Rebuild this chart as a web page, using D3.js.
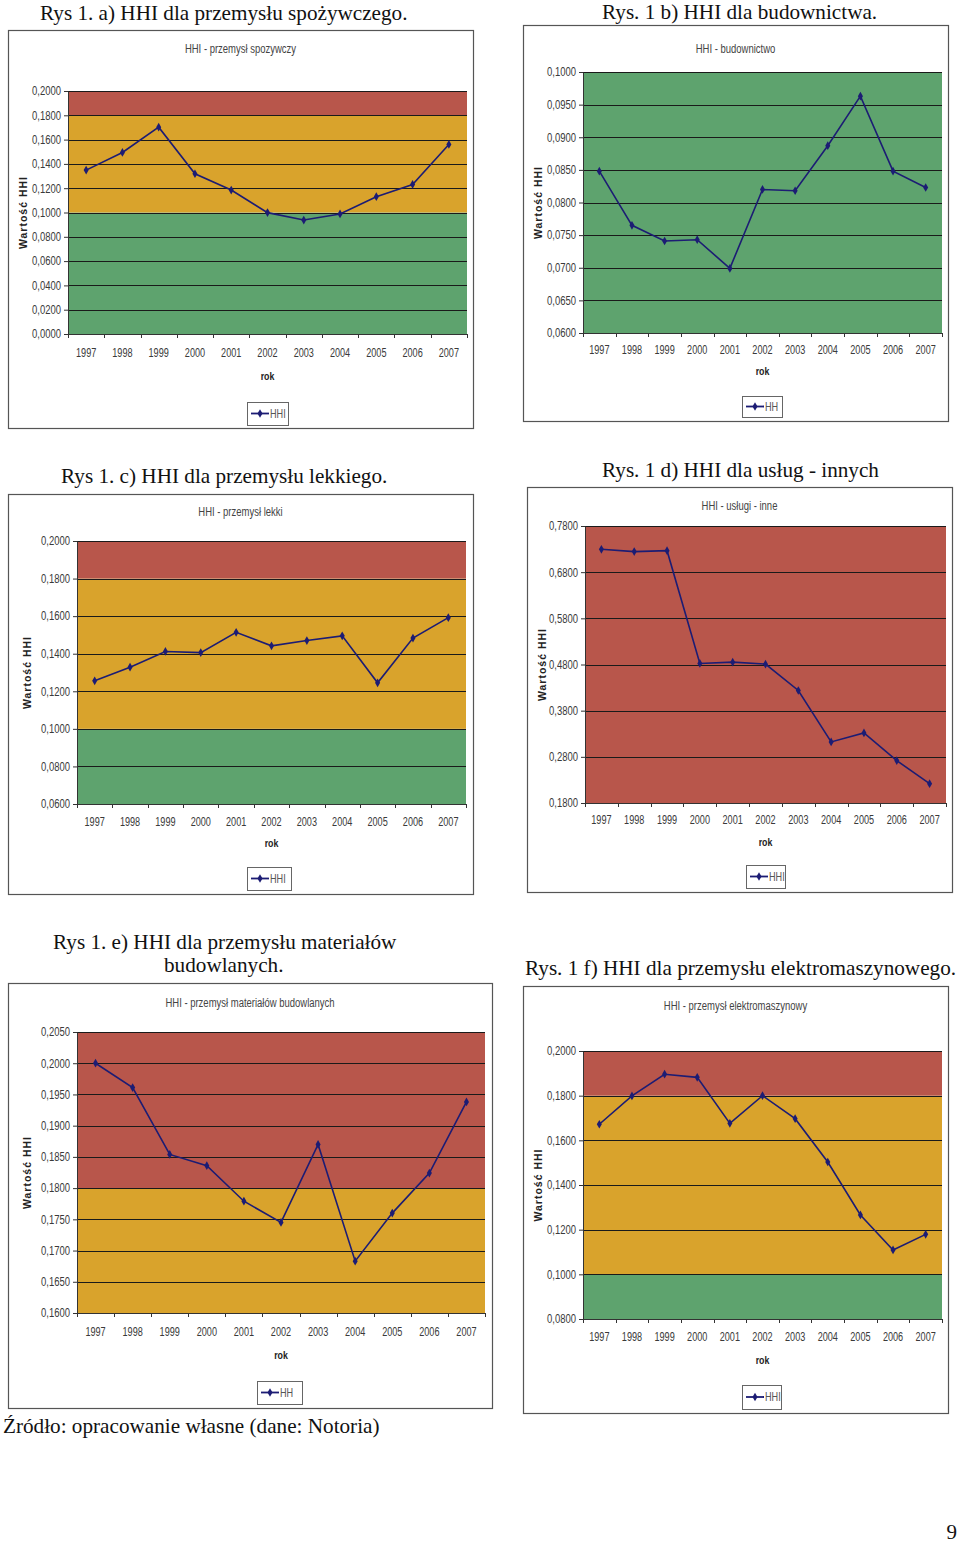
<!DOCTYPE html>
<html><head><meta charset="utf-8">
<script src="https://cdn.jsdelivr.net/npm/d3@7"></script>
<style>
html,body{margin:0;padding:0;background:#fff;}
svg{display:block;}
</style></head>
<body>
<svg id="page" width="960" height="1543"></svg>
<script>
// ---------------- DATA ----------------
const years = ["1997","1998","1999","2000","2001","2002","2003","2004","2005","2006","2007"];

const hhiSpozywczy   = [0.1349,0.1494,0.1702,0.1319,0.1185,0.0999,0.0938,0.0988,0.1130,0.1231,0.1560];
const hhiBudownictwo = [0.0848,0.0765,0.0741,0.0743,0.0699,0.0820,0.0818,0.0887,0.0963,0.0848,0.0823];
const hhiLekki       = [0.1256,0.1328,0.1412,0.1406,0.1514,0.1442,0.1470,0.1495,0.1245,0.1483,0.1592];
const hhiUslugi      = [0.7295,0.7245,0.7266,0.4822,0.4851,0.4808,0.4237,0.3123,0.3318,0.2718,0.2219];
const hhiMaterialy   = [0.2000,0.1961,0.1854,0.1836,0.1779,0.1745,0.1870,0.1683,0.1760,0.1824,0.1938];
const hhiElektro     = [0.1672,0.1799,0.1896,0.1882,0.1676,0.1800,0.1697,0.1503,0.1266,0.1109,0.1179];

const ticksA = [0,0.02,0.04,0.06,0.08,0.1,0.12,0.14,0.16,0.18,0.2];
const ticksB = [0.06,0.065,0.07,0.075,0.08,0.085,0.09,0.095,0.1];
const ticksC = [0.06,0.08,0.1,0.12,0.14,0.16,0.18,0.2];
const ticksD = [0.18,0.28,0.38,0.48,0.58,0.68,0.78];
const ticksE = [0.16,0.165,0.17,0.175,0.18,0.185,0.19,0.195,0.2,0.205];
const ticksF = [0.08,0.1,0.12,0.14,0.16,0.18,0.2];

// concentration thresholds (low / moderate / high)
const thresholds = [0.1, 0.18];
const zoneColors = ["#5ea36e", "#d9a32c", "#b8564b"];

const figureCaptions = [
  "Rys 1. a) HHI dla przemysłu spożywczego.",
  "Rys. 1 b) HHI dla budownictwa.",
  "Rys 1. c) HHI dla przemysłu lekkiego.",
  "Rys. 1 d) HHI dla usług - innych",
  "Rys 1. e) HHI dla przemysłu materiałów",
  "budowlanych.",
  "Rys. 1 f) HHI dla przemysłu elektromaszynowego."
];
const chartTitles = ["HHI - przemysł spozywczy","HHI - budownictwo","HHI - przemysł lekki","HHI - usługi - inne","HHI - przemysł materiałów budowlanych","HHI - przemysł elektromaszynowy"];
const legendLabels = ["HHI","HH","HHI","HHI","HH","HHI"];
const sourceText = "Źródło: opracowanie własne (dane: Notoria)";
const pageNumber = "9";

// ---------------- LAYOUT ----------------
const layouts = [
  {frame:[8,30,473,428],  plot:[68,91,467,334],   title:49,   xl:353,  rok:376,  legend:[247,402,288,425], yt:23},
  {frame:[523,25,948,421],plot:[583,72,942,333],  title:49,   xl:350,  rok:371,  legend:[742,396,782,417], yt:538},
  {frame:[8,494,473,894], plot:[77,541,466,804],  title:512,  xl:822,  rok:843,  legend:[247,867,291,890], yt:27},
  {frame:[527,487,952,892],plot:[585,526,946,803],title:506,  xl:820,  rok:842,  legend:[746,865,785,888], yt:542},
  {frame:[8,983,492,1408],plot:[77,1032,485,1313],title:1003, xl:1332, rok:1355, legend:[257,1381,302,1404], yt:27},
  {frame:[523,986,948,1413],plot:[583,1051,942,1319],title:1006,xl:1337,rok:1360,legend:[742,1385,781,1409], yt:538}
];
const series = [hhiSpozywczy,hhiBudownictwo,hhiLekki,hhiUslugi,hhiMaterialy,hhiElektro];
const tickSets = [ticksA,ticksB,ticksC,ticksD,ticksE,ticksF];

const svg = d3.select("#page");
svg.append("rect").attr("width",960).attr("height",1543).attr("fill","#fff");

const lineColor = "#1c1c74";
const fmt = v => d3.format(".4f")(v).replace(".", ",");
const sans = '"Liberation Sans",Arial,sans-serif';
const serif = '"Liberation Serif","Times New Roman",serif';

// emulate a condensed face by compressing glyphs horizontally
function condense(sel, factor){
  sel.each(function(){
    const w = this.getComputedTextLength();
    d3.select(this).attr("textLength", w*factor).attr("lengthAdjust","spacingAndGlyphs");
  });
}

series.forEach((vals, i) => {
  const L = layouts[i], ticks = tickSets[i];
  const [fx0,fy0,fx1,fy1] = L.frame;
  const [px0,py0,px1,py1] = L.plot;
  const g = svg.append("g");

  g.append("rect").attr("x",fx0+0.5).attr("y",fy0+0.5).attr("width",fx1-fx0).attr("height",fy1-fy0)
    .attr("fill","#fff").attr("stroke","#555").attr("stroke-width",1.2);

  const y = d3.scaleLinear().domain(d3.extent(ticks)).range([py1,py0]);
  const x = d3.scaleBand().domain(years).range([px0,px1]).padding(0);
  const [dmin,dmax] = y.domain();

  // zones
  const edges = [dmin, ...thresholds, Math.max(dmax, thresholds[1])];
  for (let k=0;k<3;k++){
    const lo = Math.max(edges[k], dmin), hi = Math.min(edges[k+1], dmax);
    if (hi <= lo) continue;
    g.append("rect").attr("x",px0).attr("width",px1-px0)
      .attr("y",y(hi)).attr("height",y(lo)-y(hi)).attr("fill",zoneColors[k]);
  }

  // gridlines
  g.append("g").selectAll("line").data(ticks.slice(1)).join("line")
    .attr("x1",px0).attr("x2",px1).attr("y1",d=>Math.round(y(d))+0.5).attr("y2",d=>Math.round(y(d))+0.5)
    .attr("stroke","#1a1a1a").attr("stroke-width",1);

  // y axis
  const ya = g.append("g").attr("transform",`translate(${px0},0)`)
    .call(d3.axisLeft(y).tickValues(ticks).tickFormat(fmt).tickSize(4).tickSizeOuter(0).tickPadding(3));
  ya.select(".domain").attr("stroke","#333");
  ya.selectAll(".tick line").attr("stroke","#333");
  ya.selectAll("text").attr("font-size",12).attr("fill","#3a3a3a").style("font-family",sans).call(condense,0.79);

  // x axis
  const xa = g.append("g").attr("transform",`translate(0,${py1})`)
    .call(d3.axisBottom(x).tickSize(0).tickPadding(0));
  xa.select(".domain").attr("stroke","#333");
  xa.selectAll("text").attr("y", L.xl - py1).attr("dy","0.35em").attr("font-size",12).attr("fill","#3a3a3a")
    .style("font-family",sans).call(condense,0.76);
  // tick marks between categories
  const bounds = years.map(d => x(d)).concat([px1]);
  g.append("g").selectAll("line").data(bounds).join("line")
    .attr("x1",d=>Math.round(d)+0.5).attr("x2",d=>Math.round(d)+0.5).attr("y1",py1).attr("y2",py1+4)
    .attr("stroke","#333");

  // series line
  const line = d3.line().x((d,j)=>x(years[j])+x.bandwidth()/2).y(d=>y(d));
  g.append("path").datum(vals).attr("d",line).attr("fill","none").attr("stroke",lineColor).attr("stroke-width",1.6);
  g.append("g").selectAll("path").data(vals).join("path")
    .attr("transform",(d,j)=>`translate(${x(years[j])+x.bandwidth()/2},${y(d)})`)
    .attr("d",d3.symbol(d3.symbolDiamond,22)).attr("fill",lineColor);

  // chart title
  g.append("text").attr("x",(fx0+fx1)/2).attr("y",L.title).attr("dy","0.35em").attr("text-anchor","middle")
    .attr("font-size",12).attr("fill","#444").style("font-family",sans).text(chartTitles[i]).call(condense,0.79);
  // y title
  g.append("text").attr("transform",`translate(${L.yt},${(py0+py1)/2}) rotate(-90)`).attr("dy","0.35em")
    .attr("text-anchor","middle").attr("font-size",10.5).attr("font-weight","bold").attr("letter-spacing",1)
    .attr("fill","#222").style("font-family",sans).text("Wartość HHI");
  // x title
  g.append("text").attr("x",(px0+px1)/2).attr("y",L.rok).attr("dy","0.35em").attr("text-anchor","middle")
    .attr("font-size",11).attr("font-weight","bold").attr("fill","#222").style("font-family",sans).text("rok").call(condense,0.8);

  // legend
  const [lx0,ly0,lx1,ly1] = L.legend;
  g.append("rect").attr("x",lx0+0.5).attr("y",ly0+0.5).attr("width",lx1-lx0).attr("height",ly1-ly0)
    .attr("fill","#fff").attr("stroke","#666");
  const lyc = (ly0+ly1)/2;
  g.append("line").attr("x1",lx0+4).attr("x2",lx0+22).attr("y1",lyc).attr("y2",lyc).attr("stroke",lineColor).attr("stroke-width",1.8);
  g.append("path").attr("transform",`translate(${lx0+13},${lyc})`).attr("d",d3.symbol(d3.symbolDiamond,22)).attr("fill",lineColor);
  g.append("text").attr("x",lx0+23).attr("y",lyc).attr("dy","0.35em").attr("font-size",12).attr("fill","#555")
    .style("font-family",sans).text(legendLabels[i]).call(condense,0.76);
});

// figure captions
const capPos = [[40,20],[602,18.5],[61,483],[602,477],[53,949],[164,972],[525,975]];
figureCaptions.forEach((t,k)=>{
  svg.append("text").attr("x",capPos[k][0]).attr("y",capPos[k][1]).attr("font-size",21.2)
    .attr("fill","#111").style("font-family",serif).text(t);
});
svg.append("text").attr("x",3).attr("y",1433).attr("font-size",21.2).attr("fill","#111").style("font-family",serif).text(sourceText);
svg.append("text").attr("x",957).attr("y",1539).attr("text-anchor","end").attr("font-size",21).attr("fill","#111").style("font-family",serif).text(pageNumber);
</script>
</body></html>
